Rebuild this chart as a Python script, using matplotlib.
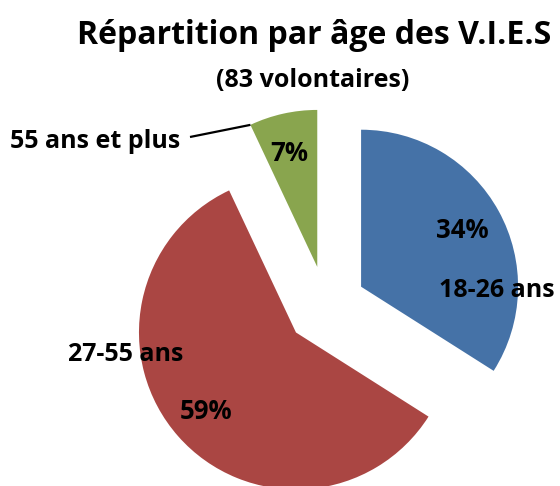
import numpy as np
import matplotlib
matplotlib.use('Agg')
import matplotlib.pyplot as plt

# Data
age_groups = ['18-26 ans', '27-55 ans', '55 ans et plus']
shares = [34, 59, 7]
slice_colors = ['#4572A7', '#AA4643', '#89A54E']
title = 'Répartition par âge des V.I.E.S'
subtitle = '(83 volontaires)'

plt.rcParams['font.family'] = ['Open Sans', 'DejaVu Sans']

W, H = 560, 486
fig = plt.figure(figsize=(W / 100, H / 100), dpi=100)

# pie centre and radius in pixels
cx, cy, rad = 326, 306, 157
ax = fig.add_axes([0, 0, 1, 1])

wedges, texts, autotexts = ax.pie(
    shares, explode=[0.255] * len(shares), colors=slice_colors,
    startangle=90, counterclock=False, radius=1,
    autopct=lambda p: f'{p:.0f}%', pctdistance=0.75,
    wedgeprops=dict(linewidth=0),
    textprops=dict(fontsize=18.5, fontweight='bold', color='black'))

ax.set_xlim(-cx / rad, (W - cx) / rad)
ax.set_ylim(-(H - cy) / rad, cy / rad)
ax.axis('off')

# put the percentages on their baseline (half a cap height below centre)
for t in autotexts:
    x, y = t.get_position()
    t.set_position((x - 2 / rad, y - 8.5 / rad))
    t.set_va('baseline')


def px(x, y):
    # pixel position (from top-left) -> data coords
    return (x - cx) / rad, (cy - y) / rad


# category labels: centre x and baseline y in pixels
label_pos = [(497, 297), (126, 361), (95, 148)]
for name, (lx, ly) in zip(age_groups, label_pos):
    ax.text(*px(lx, ly), name, ha='center', va='baseline',
            fontsize=18, fontweight='bold', color='black')

# leader line for the small slice
g = wedges[2]
th = np.deg2rad(max(g.theta1, g.theta2))
ex = g.center[0] + g.r * np.cos(th)
ey = g.center[1] + g.r * np.sin(th)
sx, sy = px(190, 137)
ax.plot([sx, ex], [sy, ey], color='black', lw=1.6, solid_capstyle='butt')

fig.text(314 / W, 1 - 43.5 / H, title, ha='center', va='baseline',
         fontsize=23, fontweight='bold')
fig.text(312.5 / W, 1 - 87 / H, subtitle, ha='center', va='baseline',
         fontsize=18, fontweight='bold')

fig.savefig('out.png', dpi=100)
